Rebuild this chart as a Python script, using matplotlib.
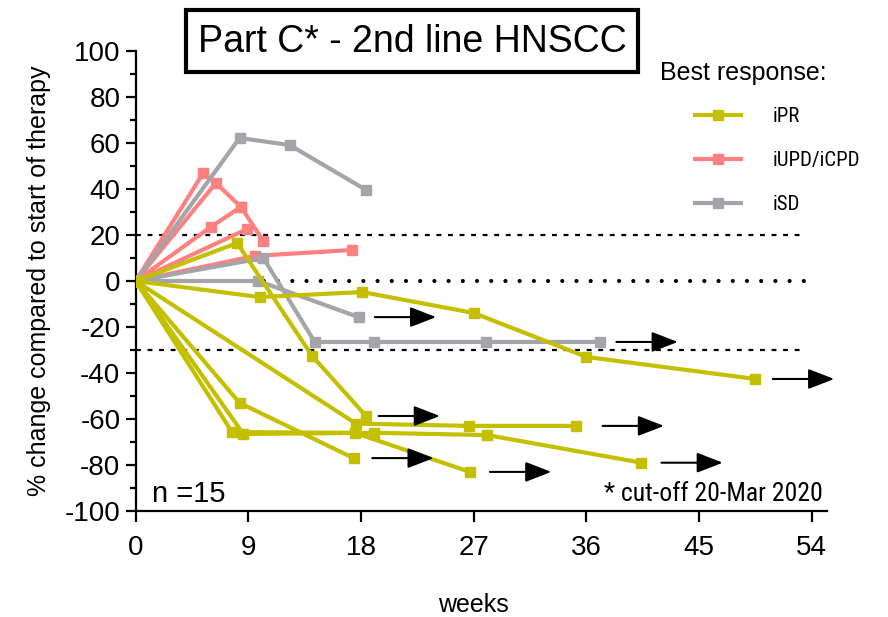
import matplotlib
matplotlib.use("Agg")
import matplotlib.pyplot as plt
from matplotlib import font_manager
from matplotlib.font_manager import FontProperties
from matplotlib.patches import Rectangle

plt.rcParams["axes.unicode_minus"] = False
names = {f.name for f in font_manager.fontManager.ttflist}
BASE = "Liberation Sans" if "Liberation Sans" in names else "DejaVu Sans"
plt.rcParams["font.family"] = [BASE, "DejaVu Sans"]


def narrow_font(size):
    """Find a condensed sans face if one is installed."""
    for f in font_manager.fontManager.ttflist:
        if f.name in ("Liberation Sans Narrow", "Roboto Condensed",
                      "Open Sans Condensed", "DejaVu Sans Condensed"):
            if f.style == "normal" and f.weight in (400, "normal", "regular"):
                return FontProperties(fname=f.fname, size=size), True
    for f in font_manager.fontManager.ttflist:
        st = f.stretch
        if isinstance(st, str):
            cond = "condensed" in st
        else:
            cond = st < 500
        if cond and f.style == "normal" and f.weight in (400, "normal", "regular") \
                and f.name in ("DejaVu Sans", "Open Sans", "Roboto", "Noto Sans", "Liberation Sans"):
            return FontProperties(fname=f.fname, size=size), True
    return FontProperties(family=BASE, size=size * 0.82), False


# ---------------- data ----------------
YELLOW = "#C4C000"
PINK = "#FF8080"
GRAY = "#A4A4A9"

# iPR (yellow)
ipr_a_x = [0, 8.1, 14.1, 18.4]
ipr_a_y = [0, 16.5, -32.6, -58.7]
ipr_b_x = [0, 9.9, 18.1, 27.0, 36.0, 49.5]
ipr_b_y = [0, -7, -4.8, -13.9, -33, -42.6]
ipr_c_x = [0, 8.3, 17.4]
ipr_c_y = [0, -53, -77]
ipr_d_x = [0, 17.6, 26.6, 35.2]
ipr_d_y = [0, -62, -63, -63]
ipr_e_x = [0, 7.7, 17.5, 26.7]
ipr_e_y = [0, -65.7, -66, -83]
ipr_f_x = [0, 8.6, 19.0, 28.1, 40.4]
ipr_f_y = [0, -66.5, -66, -67, -79]

# iUPD/iCPD (pink)
upd_1_x = [0, 5.4]
upd_1_y = [0, 47]
upd_2_x = [0, 6.4, 8.4, 10.2]
upd_2_y = [0, 42.6, 32.2, 17.4]
upd_3_x = [0, 6.0, 8.4]
upd_3_y = [0, 23.5, 32.2]
upd_4_x = [0, 8.9]
upd_4_y = [0, 22.6]
upd_5_x = [0, 9.5, 17.3]
upd_5_y = [0, 10.9, 13.5]

# iSD (gray)
sd_1_x = [0, 8.3, 12.3, 18.4]
sd_1_y = [0, 62.2, 59.1, 39.6]
sd_2_x = [0, 10.2, 14.3, 19.0, 28.0, 37.1]
sd_2_y = [0, 10, -26.5, -26.5, -26.5, -26.5]
sd_3_x = [0, 9.8, 17.8]
sd_3_y = [0, 0, -15.7]

# ongoing-treatment arrows: (start week, level)
arrow_start = [19.1, 38.4, 50.9, 19.4, 37.3, 18.9, 28.3, 42.0]
arrow_level = [-15.7, -26.5, -42.6, -58.7, -63, -77, -83, -79]
ARROW_LEN = 4.9

x_ticks = [0, 9, 18, 27, 36, 45, 54]
y_ticks = [-100, -80, -60, -40, -20, 0, 20, 40, 60, 80, 100]
ref_levels_dashed = [20, -30]
ref_level_dotted = [0]
legend_labels = ["iPR", "iUPD/iCPD", "iSD"]

# ---------------- figure ----------------
fig = plt.figure(figsize=(8.88, 6.17), dpi=100)
ax = fig.add_axes([135.7 / 888, 106 / 617, 691 / 888, 460 / 617])
ax.set_xlim(0, 55.2)
ax.set_ylim(-100, 100)

# reference lines
for lv in ref_levels_dashed:
    ax.plot([0, 53.5], [lv, lv], color="black", lw=1.6,
            linestyle=(0, (2.2, 3.0)), zorder=1)
for lv in ref_level_dotted:
    ax.plot([0, 54.0], [lv, lv], color="black", lw=3.0,
            linestyle=(0, (0.01, 3.4)), dash_capstyle="round", zorder=1)

LW = 3.0
MS = 7.0
kw = dict(marker="s", markersize=MS, lw=LW, solid_capstyle="butt", zorder=3)

series_pink = [(upd_1_x, upd_1_y), (upd_2_x, upd_2_y), (upd_3_x, upd_3_y),
               (upd_4_x, upd_4_y), (upd_5_x, upd_5_y)]
series_gray = [(sd_1_x, sd_1_y), (sd_2_x, sd_2_y), (sd_3_x, sd_3_y)]
series_yel = [(ipr_a_x, ipr_a_y), (ipr_b_x, ipr_b_y), (ipr_c_x, ipr_c_y),
              (ipr_d_x, ipr_d_y), (ipr_e_x, ipr_e_y), (ipr_f_x, ipr_f_y)]

h_pink = h_gray = h_yel = None
for xs, ys in series_pink:
    h_pink, = ax.plot(xs, ys, color=PINK, **kw)
for xs, ys in series_gray:
    h_gray, = ax.plot(xs, ys, color=GRAY, **kw)
for xs, ys in series_yel:
    h_yel, = ax.plot(xs, ys, color=YELLOW, **kw)

for xs, lv in zip(arrow_start, arrow_level):
    ax.annotate("", xy=(xs + ARROW_LEN, lv), xytext=(xs, lv),
                arrowprops=dict(arrowstyle="-|>,head_length=1.6,head_width=0.62",
                                mutation_scale=10, lw=1.5, color="black",
                                shrinkA=0, shrinkB=0),
                annotation_clip=False, zorder=4)

# axes styling
for s in ["top", "right"]:
    ax.spines[s].set_visible(False)
for s in ["left", "bottom"]:
    ax.spines[s].set_linewidth(1.6)
ax.set_xticks(x_ticks)
ax.set_yticks(y_ticks)
ax.set_yticks(list(range(-90, 100, 20)), minor=True)
ax.tick_params(axis="both", which="major", labelsize=20, width=1.6, color="black")
ax.tick_params(axis="x", which="major", length=8, pad=9)
ax.tick_params(axis="y", which="major", length=7, pad=4)
ax.tick_params(axis="y", which="minor", length=4, width=1.6)

ax.set_ylabel("% change compared to start of therapy", fontsize=18, labelpad=10)
ax.set_xlabel("weeks", fontsize=18)
ax.xaxis.set_label_coords((473 - 135.7) / 691, (511 - 605) / 460)
ax.xaxis.label.set_va("center")

# title box
fig.patches.append(Rectangle((186 / 888, 1 - 72 / 617), (638 - 186) / 888, 62 / 617,
                             transform=fig.transFigure, fill=False, lw=3.0,
                             edgecolor="black"))
fig.text(412 / 888, 1 - 42 / 617, "Part C* - 2nd line HNSCC", fontsize=27,
         ha="center", va="center")

# legend
fig.text(660 / 888, 1 - 80 / 617, "Best response:", fontsize=18, ha="left",
         va="baseline")
leg_fp, is_narrow = narrow_font(15)
fs = leg_fp.get_size_in_points()
leg = ax.legend([h_yel, h_pink, h_gray], legend_labels,
                loc="upper left", bbox_to_anchor=(693 / 888, 1 - 107 / 617),
                bbox_transform=fig.transFigure, frameon=False,
                prop=leg_fp, handlelength=36 / fs,
                handletextpad=21 / fs, labelspacing=(31 - 0.86 * fs) / fs,
                borderpad=0, borderaxespad=0, markerscale=1.0)

fig.text(152 / 888, 1 - 502 / 617, "n =15", fontsize=21, va="baseline", ha="left")
cut_fp, _ = narrow_font(18.5)
fig.text(823 / 888, 1 - 501 / 617, "* cut-off 20-Mar 2020", fontproperties=cut_fp,
         va="baseline", ha="right")

fig.savefig("out.png", dpi=100)
